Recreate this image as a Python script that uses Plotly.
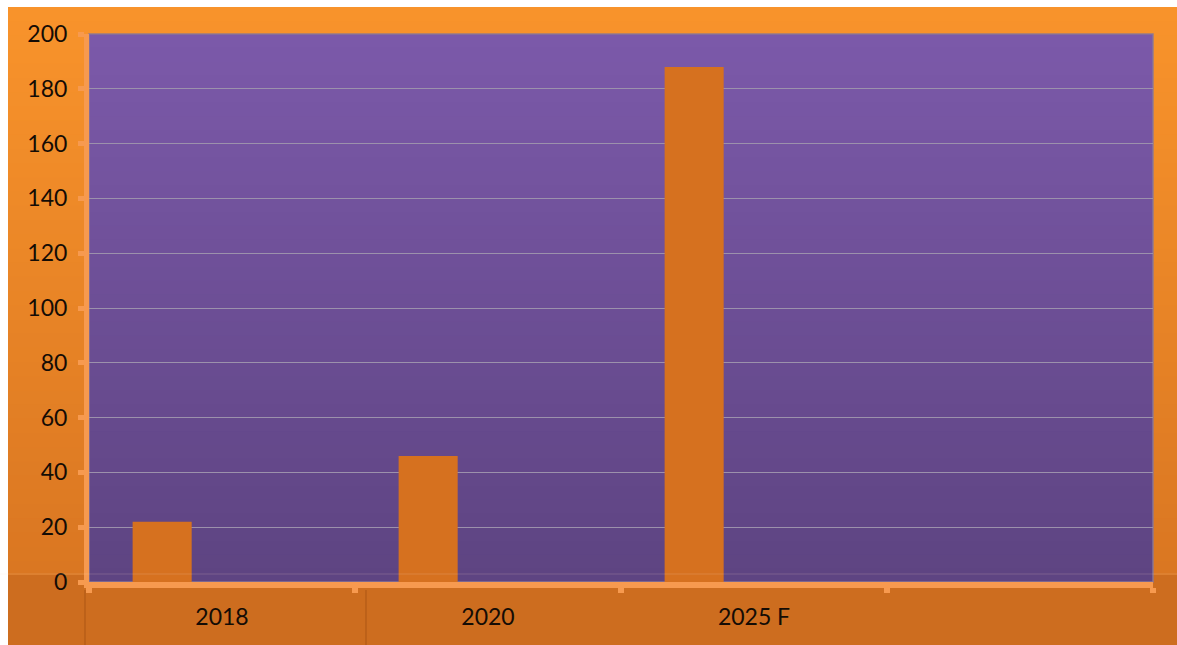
import plotly.graph_objects as go

categories = ["2018", "2020", "2025 F", " "]
values = [22, 46, 188, None]
y_ticks = [0, 20, 40, 60, 80, 100, 120, 140, 160, 180, 200]

W, H = 1177, 645
L, R, T, B = 89, 24, 34, 63
plot_top_px = T
plot_bot_px = H - B
ph = plot_bot_px - plot_top_px
pw = W - L - R


def px_to_py(py):
    return (plot_bot_px - py) / ph


def px_to_px(px):
    return (px - L) / pw


def lerp(c1, c2, t):
    return "rgb(%d,%d,%d)" % tuple(round(a + (b - a) * t) for a, b in zip(c1, c2))


shapes = []
# orange background gradient (strips overlap so no seams)
top_c = (248, 147, 43)
mid_c = (218, 119, 34)
bot_c = (205, 109, 31)
N = 40
y0p, y1p = 7, 575
for i in range(N):
    a = y0p + (y1p - y0p) * i / N
    shapes.append(dict(type="rect", xref="paper", yref="paper", layer="below",
                       x0=px_to_px(8), x1=px_to_px(W + 2), y0=px_to_py(y1p), y1=px_to_py(a),
                       fillcolor=lerp(top_c, mid_c, i / (N - 1)), line_width=0))
shapes.append(dict(type="rect", xref="paper", yref="paper", layer="below",
                   x0=px_to_px(8), x1=px_to_px(W + 2), y0=px_to_py(H + 2), y1=px_to_py(y1p),
                   fillcolor="rgb(%d,%d,%d)" % bot_c, line_width=0))
# purple plot gradient
p_top = (123, 89, 169)
p_bot = (94, 68, 130)
for i in range(N):
    shapes.append(dict(type="rect", xref="paper", yref="paper", layer="below",
                       x0=0, x1=1, y0=0, y1=1 - i / N,
                       fillcolor=lerp(p_top, p_bot, i / (N - 1)), line_width=0))
# plot border
shapes.append(dict(type="rect", xref="paper", yref="paper", layer="below",
                   x0=0, x1=1, y0=0, y1=1, line=dict(color="rgba(140,120,150,0.9)", width=1.5),
                   fillcolor="rgba(0,0,0,0)"))
# faint separator lines in category label area
for xp in (85, 366):
    shapes.append(dict(type="line", xref="paper", yref="paper", layer="below",
                       x0=px_to_px(xp), x1=px_to_px(xp), y0=px_to_py(590), y1=px_to_py(H + 2),
                       line=dict(color="rgba(170,85,20,0.8)", width=1.2)))
# faint horizontal line
shapes.append(dict(type="line", xref="paper", yref="paper", layer="above",
                   x0=px_to_px(0), x1=px_to_px(W + 2), y0=px_to_py(574), y1=px_to_py(574),
                   line=dict(color="rgba(255,220,200,0.18)", width=1)))

fig = go.Figure()
fig.add_trace(go.Bar(
    x=categories, y=values,
    width=0.222, offset=-0.336,
    marker=dict(color="#D6711F", line=dict(width=0)),
    hoverinfo="skip",
))

font_fam = "Lato, 'Open Sans', sans-serif"
tick_font = dict(family=font_fam, size=23, color="#140c05")
fig.update_layout(
    width=W, height=H,
    margin=dict(l=L, r=R, t=T, b=B, pad=0),
    paper_bgcolor="white",
    plot_bgcolor="rgba(0,0,0,0)",
    showlegend=False,
    shapes=shapes,
    font=tick_font,
    xaxis=dict(
        type="category", categoryorder="array", categoryarray=categories,
        range=[-0.5, 3.5], showgrid=False, zeroline=False,
        showline=True, linecolor="#F79A4F", linewidth=6,
        ticks="outside", tickson="boundaries", ticklen=5, tickwidth=6, tickcolor="#F79A4F",
        ticklabelstandoff=9,
        tickfont=tick_font,
    ),
    yaxis=dict(
        range=[0, 200], tickvals=y_ticks, showgrid=True,
        gridcolor="#9C91AC", gridwidth=1.2, zeroline=False,
        showline=True, linecolor="#F79A4F", linewidth=5,
        ticks="outside", ticklen=6, tickwidth=5, tickcolor="#F79A4F",
        ticklabelstandoff=6,
        tickfont=tick_font,
    ),
)

fig.write_html("out.html")
